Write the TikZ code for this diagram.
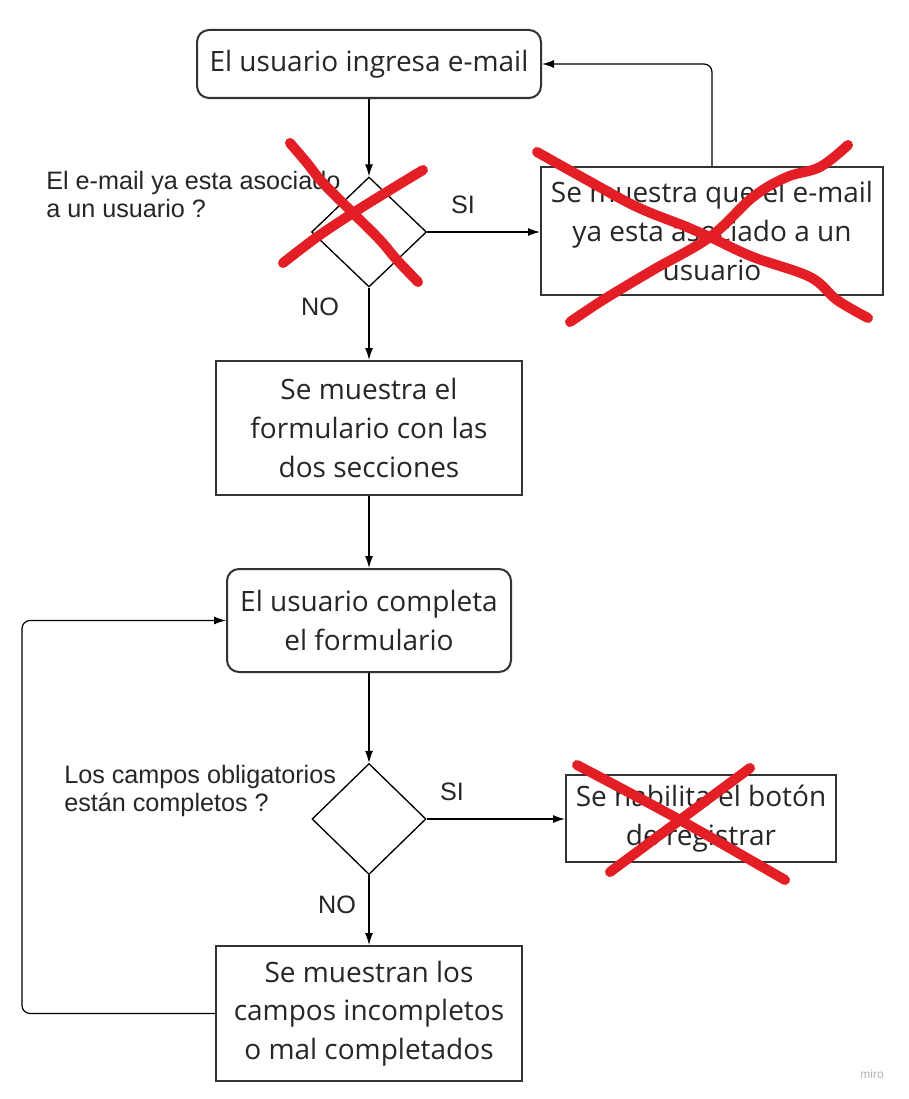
\documentclass[tikz,border=0pt]{standalone}
\usepackage{fontspec}
\newfontfamily\boxfont{Open Sans}
\newfontfamily\lblfont{Liberation Sans}
\usetikzlibrary{shapes.geometric,arrows.meta}
\definecolor{xred}{HTML}{E31E24}
\definecolor{edge}{HTML}{333333}
\begin{document}
\begin{tikzpicture}[x=0.75pt,y=-0.75pt,
 proc/.style={draw=edge,line width=1.5pt,fill=white,align=center,inner sep=0pt,font=\boxfont\fontsize{21}{29}\selectfont,text=black!85},
 rproc/.style={proc,rounded corners=9pt},
 dec/.style={diamond,draw=black,line width=1pt,inner sep=0pt},
 arr/.style={draw=black,line width=0.9pt,-{Latex[length=9pt,width=6pt]}},
 lbl/.style={font=\lblfont\fontsize{18.9}{21}\selectfont,text=black!85,inner sep=0pt},
 cross/.style={draw=xred,line width=7.5pt,line cap=round,line join=round}]
\useasboundingbox (0,0) rectangle (909,1099);
\fill[white] (0,0) rectangle (909,1099);
% nodes
\node[rproc,minimum width=258pt,minimum height=51pt] (b1) at (369,64) {El usuario ingresa e-mail};
\node[dec,minimum width=86.25pt,minimum height=82.5pt] (d1) at (369,232) {};
\node[proc,minimum width=256.5pt,minimum height=96pt] (b2) at (712,231) {Se muestra que el e-mail\\ya esta asociado a un\\usuario};
\node[proc,minimum width=229.5pt,minimum height=100.5pt] (b3) at (369,428) {Se muestra el\\formulario con las\\dos secciones};
\node[rproc,minimum width=213pt,minimum height=77.25pt] (b4) at (369,620.5) {El usuario completa\\el formulario};
\node[dec,minimum width=85.5pt,minimum height=83.25pt] (d2) at (369,819) {};
\node[proc,minimum width=202.5pt,minimum height=65.25pt] (b5) at (701,818.5) {Se habilita el botón\\de registrar};
\node[proc,minimum width=229.5pt,minimum height=101.25pt] (b6) at (369,1013.5) {Se muestran los\\campos incompletos\\o mal completados};
% labels
\node[lbl,anchor=north west,align=left] (q1) at (46,171) {El e-mail ya esta asociado\\a un usuario ?};
\node[lbl,anchor=north west,align=left] (q2) at (64,765) {Los campos obligatorios\\están completos ?};
\node[lbl] (si1) at (463,205) {SI};
\node[lbl] (no1) at (320,307) {NO};
\node[lbl] (si2) at (452,792) {SI};
\node[lbl] (no2) at (337,905) {NO};
\node[font=\lblfont\fontsize{9}{10}\selectfont,text=black!30,inner sep=0pt] (miro) at (872,1074) {miro};
% connectors
\draw[arr] (b1.south) -- (d1.north);
\draw[arr] (d1.east) -- (d1.east -| b2.west);
\draw[arr,rounded corners=6pt] (b2.north) |- (b1.east);
\draw[arr] (d1.south) -- (b3.north);
\draw[arr] (b3.south) -- (b4.north);
\draw[arr] (b4.south) -- (d2.north);
\draw[arr] (d2.east) -- (d2.east -| b5.west);
\draw[arr] (d2.south) -- (b6.north);
\coordinate (lp) at (22,0);
\draw[arr,rounded corners=6pt] (b6.west) -- (b6.west -| lp) -- (b4.west -| lp) -- (b4.west);
% red crosses
\draw[cross] plot[smooth,tension=0.6] coordinates {(290,143) (307,163) (323,183) (353,213) (380,240) (397,260) (418,282)};
\draw[cross] plot[smooth,tension=0.6] coordinates {(423,170) (390,190) (353,213) (317,237) (283,263)};
\draw[cross] plot[smooth,tension=0.6] coordinates {(537,152) (587,180) (637,207) (687,227) (710,237) (753,257) (810,277) (837,300) (868,318)};
\draw[cross] plot[smooth,tension=0.6] coordinates {(848,145) (820,167) (787,177) (753,197) (710,237) (653,270) (603,300) (570,322)};
\draw[cross] plot[smooth,tension=0.6] coordinates {(577,765) (680,820) (785,880)};
\draw[cross] plot[smooth,tension=0.6] coordinates {(750,768) (680,820) (610,872)};
\end{tikzpicture}
\end{document}
